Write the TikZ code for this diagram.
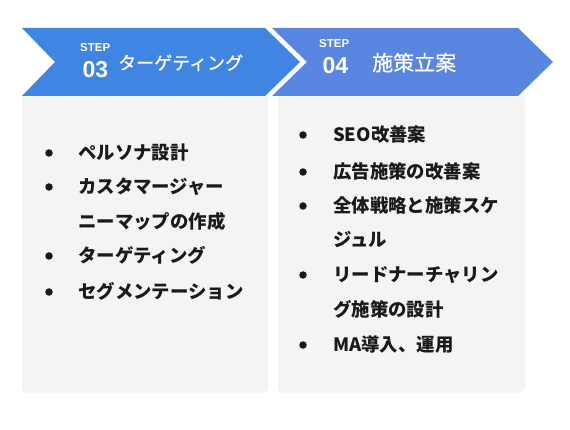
\documentclass[tikz,border=0pt]{standalone}
\usepackage{fontspec}
\setmainfont{Noto Sans CJK JP}
\newfontfamily\latfont{Liberation Sans}
\newfontfamily\titlefont[FakeBold=0.6]{Noto Sans CJK JP}
\definecolor{chevA}{RGB}{64,133,226}
\definecolor{chevB}{RGB}{88,134,224}
\definecolor{panel}{RGB}{244,244,244}
\definecolor{ink}{RGB}{26,26,26}
\tikzset{
  steplabel/.style={anchor=base west,inner sep=0pt,text=white,font=\latfont\bfseries\fontsize{11.5}{12}\selectfont},
  stepnum/.style={anchor=base west,inner sep=0pt,text=white,font=\latfont\bfseries\fontsize{23}{24}\selectfont},
  steptitle/.style={anchor=base west,inner sep=0pt,text=white},
  item/.style={anchor=base west,inner sep=0pt,text=ink,font=\bfseries\fontsize{18.4}{20}\selectfont},
  dot/.style={circle,fill=ink,inner sep=0pt,minimum size=7.5pt}
}
\begin{document}
\begin{tikzpicture}[x=1pt,y=-1pt]
\fill[white] (0,0) rectangle (570,430);
\useasboundingbox (0,0) rectangle (570,430);
% panels
\fill[panel,rounded corners=6pt] (22,96) rectangle (268,393);
\fill[panel] (22,96) rectangle (268,120);
\fill[panel,rounded corners=6pt] (278,96) rectangle (525,393);
\fill[panel] (278,96) rectangle (525,120);
% chevrons
\fill[chevA] (22,28) -- (265,28) -- (300,62) -- (265,96) -- (22,96) -- (55,62) -- cycle;
\fill[chevB] (272,28) -- (518,28) -- (553,62) -- (518,96) -- (272,96) -- (307,62) -- cycle;
% chevron texts
\node[steplabel] (s3) at (80,52) {STEP};
\node[stepnum] (n3) at (82.5,77.8) {03};
\node[steptitle,font=\titlefont\fontsize{18}{20}\selectfont] (t3) at (118,69.6) {ターゲティング};
\node[steplabel] (s4) at (319,48) {STEP};
\node[stepnum] (n4) at (322.5,74) {04};
\node[steptitle,font=\titlefont\fontsize{21}{22}\selectfont] (t4) at (372,70.6) {施策立案};
% left list
\node[dot] (la) at (49,153) {};
\node[item] (lta) at (78,159.5) {ペルソナ設計};
\node[dot] (lb) at (49,187) {};
\node[item] (ltb) at (78,193.5) {カスタマージャー};
\node[item] (ltb2) at (78,228.5) {ニーマップの作成};
\node[dot] (lc) at (49,256) {};
\node[item] (ltc) at (78,262.5) {ターゲティング};
\node[dot] (ld) at (49,292) {};
\node[item] (ltd) at (78,298.5) {セグメンテーション};
% right list
\node[dot] (ra) at (303,135) {};
\node[item] (rta) at (333,141.5) {SEO改善案};
\node[dot] (rb) at (303,172) {};
\node[item] (rtb) at (333,178.5) {広告施策の改善案};
\node[dot] (rc) at (303,206) {};
\node[item] (rtc) at (333,212.5) {全体戦略と施策スケ};
\node[item] (rtc2) at (333,246.5) {ジュル};
\node[dot] (rd) at (303,275) {};
\node[item] (rtd) at (333,281.5) {リードナーチャリン};
\node[item] (rtd2) at (333,316.5) {グ施策の設計};
\node[dot] (re) at (303,345) {};
\node[item] (rte) at (333,351.5) {MA導入、運用};
\end{tikzpicture}
\end{document}
